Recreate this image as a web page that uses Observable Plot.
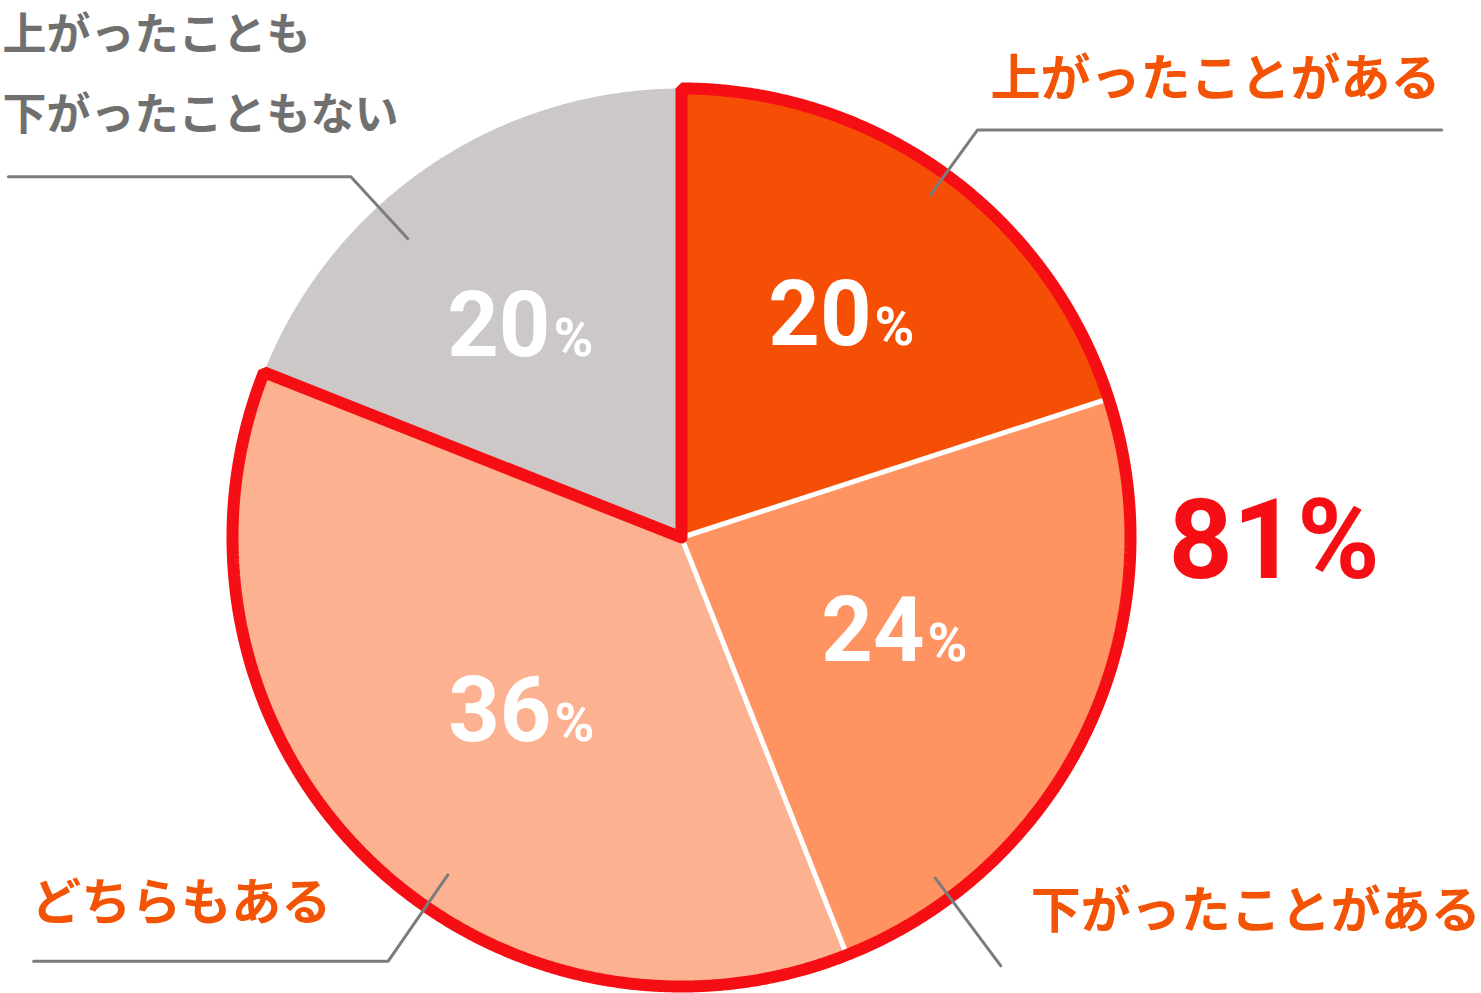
<!DOCTYPE html>
<html>
<head>
<meta charset="utf-8">
<script src="https://cdn.jsdelivr.net/npm/d3@7"></script>
<script src="https://cdn.jsdelivr.net/npm/@observablehq/plot@0.6"></script>
<style>
  html, body { margin: 0; padding: 0; background: #fff; }
  #chart svg { display: block; }
</style>
</head>
<body>
<div id="chart"></div>
<script>
// ---- data ----
const categories = ["上がったことがある", "下がったことがある", "どちらもある", "上がったことも\n下がったこともない"];
const values = [20, 24, 37, 19];            // share of respondents (%)
const valueLabels = ["20", "24", "36", "20"]; // printed labels
const totalLabel = "81%";                   // 上がった/下がった経験あり の合計
const highlighted = [true, true, true, false];

// ---- styles / layout ----
const sliceColors = ["#F54F05", "#FF9462", "#FCB190", "#CBC8C7"];
const labelColors = ["#F25304", "#F25304", "#F25304", "#707070"];
const RED = "#F50E13";
const LEADER = "#7C7C7C";
// value label placement: polar angle (deg) and radius (radius = 1)
const labelPolar = [
  {angle: 35.75, r: 0.618},
  {angle: 112.9, r: 0.520},
  {angle: 222.9, r: 0.517},
  {angle: 323.4, r: 0.594}
];
// leader lines: angle (deg, clockwise from 12 o'clock), inner radius, elbow radius, horizontal end x (or null)
const leaders = [
  {angle: 36.0, r0: 0.943, r1: 1.122, xEnd: 1.693},
  {angle: 143.3, r0: 0.946, r1: 1.19, xEnd: null},
  {angle: 214.7, r0: 0.914, r1: 1.148, xEnd: -1.443},
  {angle: 317.5, r0: 0.903, r1: 1.09, xEnd: -1.499}
];
// category label anchors (data units, radius = 1)
const catLabelPos = [
  {x: 0.688, y: 1.049, anchor: "start", size: 50},
  {x: 0.778, y: -0.804, anchor: "start", size: 50},
  {x: -1.448, y: -0.786, anchor: "start", size: 50},
  {x: -1.512, y: 1.053, anchor: "start", size: 44}
];
const totalPos = {x: 1.0846, y: -0.0891};

// ---- geometry from data ----
const total = d3.sum(values);
const rad = (deg) => deg * Math.PI / 180;
const polar = (deg, r) => ({x: r * Math.sin(rad(deg)), y: r * Math.cos(rad(deg))});
let acc = 0;
const slices = values.map((v, i) => {
  const a0 = acc / total * 360;
  acc += v;
  const a1 = acc / total * 360;
  return {i, a0, a1, mid: (a0 + a1) / 2, value: v, label: valueLabels[i], category: categories[i]};
});

function arcPoints(a0, a1, r, step = 0.25) {
  const pts = [];
  const n = Math.max(2, Math.ceil((a1 - a0) / step));
  for (let k = 0; k <= n; k++) pts.push(polar(a0 + (a1 - a0) * k / n, r));
  return pts;
}

const slicePts = slices.flatMap(s => {
  const pts = [{x: 0, y: 0}, ...arcPoints(s.a0, s.a1, 1), {x: 0, y: 0}];
  return pts.map(p => ({...p, slice: s.i}));
});

const boundaries = slices.map(s => ({...polar(s.a0, 1), a: s.a0}));

const hiEnd = slices.filter((s, i) => highlighted[i]).at(-1).a1;
const outlinePts = [{x: 0, y: 0}, ...arcPoints(0, hiEnd, 1), {x: 0, y: 0}];

const leaderPts = leaders.flatMap((l, i) => {
  const p0 = polar(l.angle, l.r0), p1 = polar(l.angle, l.r1);
  const pts = [p0, p1];
  if (l.xEnd !== null) pts.push({x: l.xEnd, y: p1.y});
  return pts.map(p => ({...p, k: i}));
});

const pctLabels = slices.map((s, i) => ({...polar(labelPolar[i].angle, labelPolar[i].r), label: s.label}));
const catLabels = categories.map((c, i) => ({...catLabelPos[i], text: c, color: labelColors[i]}));

// ---- chart ----
const W = 1481, H = 993;
const cx = 681, cy = 537, R = 449;
const chart = Plot.plot({
  width: W,
  height: H,
  margin: 0,
  x: {domain: [-cx / R, (W - cx) / R], axis: null},
  y: {domain: [-(H - cy) / R, cy / R], axis: null},
  marks: [
    Plot.line(slicePts, {x: "x", y: "y", z: "slice", fill: d => sliceColors[d.slice], stroke: "none", curve: "linear"}),
    Plot.link(boundaries, {x1: 0, y1: 0, x2: "x", y2: "y", stroke: "white", strokeWidth: 5}),
    Plot.line(outlinePts, {x: "x", y: "y", stroke: RED, strokeWidth: 12, fill: "none", strokeLinejoin: "miter", curve: "linear"}),
    Plot.line(leaderPts, {x: "x", y: "y", z: "k", stroke: LEADER, strokeWidth: 3, curve: "linear"}),
    Plot.text(pctLabels, {x: "x", y: "y", text: "label", textAnchor: "end", lineAnchor: "bottom", dx: 28, dy: 33,
      fontSize: 90, fontWeight: 700, fontFamily: "Roboto", fill: "white"}),
    Plot.text(pctLabels, {x: "x", y: "y", text: () => "%", textAnchor: "start", lineAnchor: "bottom", dx: 31, dy: 33,
      fontSize: 54, fontWeight: 700, fontFamily: "Roboto", fill: "white"}),
    Plot.text([totalPos], {x: "x", y: "y", text: () => totalLabel, textAnchor: "start", lineAnchor: "bottom",
      fontSize: 112, fontWeight: 700, fontFamily: "Roboto", fill: RED}),
    ...catLabels.map(c => Plot.text([c], {x: "x", y: "y", text: "text", textAnchor: c.anchor, lineAnchor: "middle",
      lineHeight: 1.82, fontSize: c.size, fontWeight: 700, fontFamily: "Noto Sans CJK JP", fill: c.color}))
  ]
});
document.getElementById("chart").appendChild(chart);
</script>
</body>
</html>
